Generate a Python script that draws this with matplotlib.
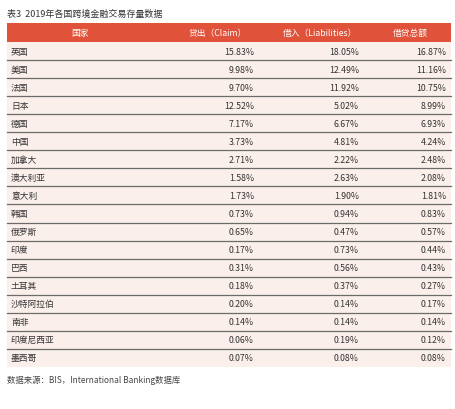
import matplotlib
matplotlib.use("Agg")
import matplotlib.pyplot as plt
from matplotlib.patches import Rectangle

plt.rcParams['font.family'] = ['Noto Sans CJK SC', 'DejaVu Sans']

title = "表3  2019年各国跨境金融交易存量数据"
headers = ["国家", "贷出（Claim）", "借入（Liabilities）", "借贷总额"]
countries = ["英国", "美国", "法国", "日本", "德国", "中国", "加拿大", "澳大利亚", "意大利", "韩国",
             "俄罗斯", "印度", "巴西", "土耳其", "沙特阿拉伯", "南非", "印度尼西亚", "墨西哥"]
claim = ["15.83%", "9.98%", "9.70%", "12.52%", "7.17%", "3.73%", "2.71%", "1.58%", "1.73%", "0.73%",
         "0.65%", "0.17%", "0.31%", "0.18%", "0.20%", "0.14%", "0.06%", "0.07%"]
liab = ["18.05%", "12.49%", "11.92%", "5.02%", "6.67%", "4.81%", "2.22%", "2.63%", "1.90%", "0.94%",
        "0.47%", "0.73%", "0.56%", "0.37%", "0.14%", "0.14%", "0.19%", "0.08%"]
total = ["16.87%", "11.16%", "10.75%", "8.99%", "6.93%", "4.24%", "2.48%", "2.08%", "1.81%", "0.83%",
         "0.57%", "0.44%", "0.43%", "0.27%", "0.17%", "0.14%", "0.12%", "0.08%"]
source = "数据来源：BIS，International Banking数据库"

W, H = 456, 410
fig = plt.figure(figsize=(W/100, H/100), dpi=100)
ax = fig.add_axes([0, 0, 1, 1])
ax.set_xlim(0, W); ax.set_ylim(H, 0); ax.axis('off')

x0, x1 = 7, 451
hy0, hy1 = 24, 43
rowh = 18.05
fs = 6.3
ax.text(7, 14, title, fontsize=6.5, va='center', ha='left', color='#333333')
ax.add_patch(Rectangle((x0, hy0), x1-x0, hy1-hy0, color='#e0533a', lw=0))
hx = [80, 218, 320, 410]
for h, x in zip(headers, hx):
    ax.text(x, (hy0+hy1)/2, h, fontsize=fs, color='white', ha='center', va='center')
n = len(countries)
ax.add_patch(Rectangle((x0, hy1), x1-x0, n*rowh, color='#fbefeb', lw=0))
for i in range(n):
    yc = hy1 + (i+0.5)*rowh
    ax.text(11, yc, countries[i], fontsize=fs, color='#333333', ha='left', va='center')
    ax.text(254, yc, claim[i], fontsize=fs, color='#333333', ha='right', va='center')
    ax.text(359, yc, liab[i], fontsize=fs, color='#333333', ha='right', va='center')
    ax.text(446, yc, total[i], fontsize=fs, color='#333333', ha='right', va='center')
    if i < n-1:
        yl = hy1 + (i+1)*rowh
        ax.plot([x0, x1], [yl, yl], color='#6b6b6b', lw=0.9)
ax.text(7, hy1 + n*rowh + 12, source, fontsize=6, color='#444444', ha='left', va='center')
fig.savefig("out.png", dpi=100)
